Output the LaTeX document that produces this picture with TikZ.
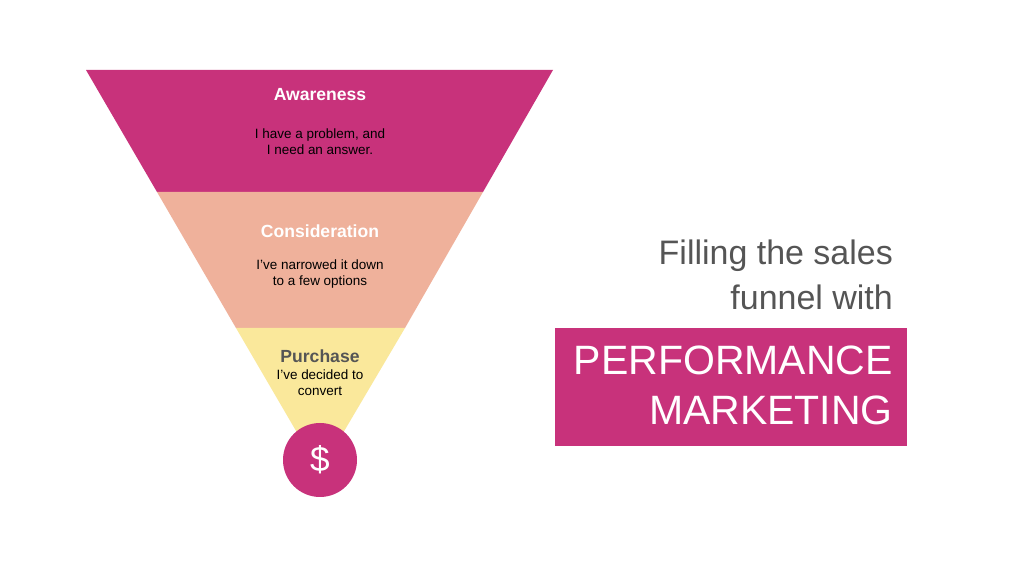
\documentclass[tikz,border=0pt]{standalone}
\usepackage{fontspec}
\setmainfont{Liberation Sans}
\usetikzlibrary{calc}
\definecolor{funnelpink}{HTML}{C8327B}
\definecolor{funnelpeach}{HTML}{EFB19B}
\definecolor{funnelyellow}{HTML}{FAE89B}
\definecolor{textgrey}{HTML}{555555}
\tikzset{
  stage/.style={font=\bfseries\fontsize{15}{18}\selectfont},
  note/.style={font=\fontsize{11.5}{13.5}\selectfont, align=center, text=black},
  headline/.style={font=\fontsize{29}{34}\selectfont, text=textgrey, anchor=east},
  bigword/.style={font=\fontsize{35}{40}\selectfont, text=white, anchor=east}
}
\begin{document}
\begin{tikzpicture}[x=0.03cm,y=-0.03cm]
	\useasboundingbox (0,0) rectangle (1024,573);
	\fill[white] (0,0) rectangle (1024,573);
	% funnel bands
	\fill[funnelpink] (86,70)--(553,70)--(483,192)--(157,192)--cycle;
	\fill[funnelpeach] (157,192)--(483,192)--(405,328)--(236,328)--cycle;
	\fill[funnelyellow] (236,328)--(405,328)--(320,472)--cycle;
	\node[circle,fill=funnelpink,minimum size=2.22cm,inner sep=0pt,text=white,
	  font=\fontsize{30}{30}\selectfont] (dollar) at (320,460) {\$};
	%
	\node[stage,text=white] (aware) at (320,95) {Awareness};
	\node[note] (awarenote) at (320,142) {I have a problem, and\\I need an answer.};
	\node[stage,text=white] (consid) at (320,231) {Consideration};
	\node[note] (considnote) at (320,274) {I’ve narrowed it down\\to a few options};
	\node[stage,text=textgrey] (purch) at (320,356) {Purchase};
	\node[note] (purchnote) at (320,383) {I’ve decided to\\convert};
	% title
	\node[headline] (fill) at (897,256) {Filling the sales};
	\node[headline] (funnel) at (897,297) {funnel with};
	\fill[funnelpink] (555,328) rectangle (907,446);
	\node[bigword] (perf) at (897,360) {PERFORMANCE};
	\node[bigword] (mark) at (897,410) {MARKETING};
\end{tikzpicture}
\end{document}
